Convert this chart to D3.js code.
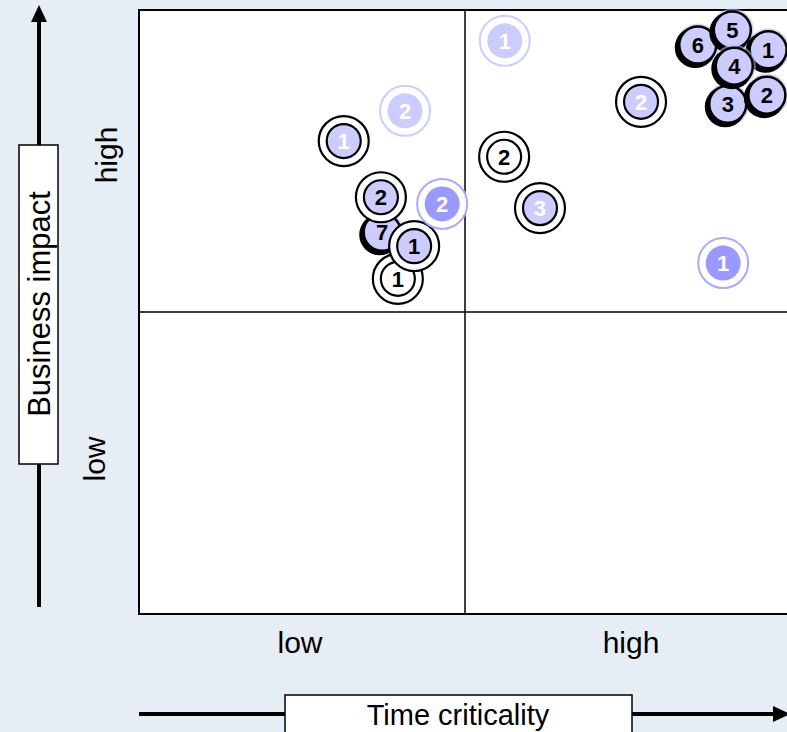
<!DOCTYPE html>
<html>
<head>
<meta charset="utf-8">
<script src="https://cdn.jsdelivr.net/npm/d3@7"></script>
<style>
  html, body { margin: 0; padding: 0; background: #e6edf5; overflow: hidden; }
  svg { display: block; }
  text { font-family: "Liberation Sans", Arial, sans-serif; }
</style>
</head>
<body>
<svg id="chart" width="787" height="732"></svg>
<script>
// ---- data ----
const labels = ["1", "2", "1", "1", "2", "2", "7", "2", "1", "3", "2", "1", "6", "5", "1", "3", "2", "4"];
const timeValues = [5.61, 4.08, 3.14, 3.97, 4.65, 5.60, 3.73, 3.71, 4.22, 6.15, 7.70, 8.96, 8.57, 9.10, 9.65, 9.03, 9.63, 9.13];
const impactValues = [9.49, 8.33, 7.83, 5.55, 6.79, 7.57, 6.32, 6.90, 6.09, 6.72, 8.48, 5.81, 9.42, 9.67, 9.34, 8.44, 8.59, 9.07];
const kinds = ["faded", "faded", "ringLight", "ringEmpty", "medium", "ringEmpty", "shadow", "ringDark", "ringDark", "ringLight", "ringLight", "medium", "shadow", "shadow", "shadow", "shadow", "shadow", "shadow"];
const xTickLabels = ["low", "high"];
const yTickLabels = ["low", "high"];
const xTitle = "Time criticality";
const yTitle = "Business impact";

const points = labels.map((l, i) => ({ label: l, x: timeValues[i], y: impactValues[i], kind: kinds[i] }));

const svg = d3.select("#chart");
const x = d3.scaleLinear().domain([0, 10]).range([139, 791]);
const y = d3.scaleLinear().domain([0, 10]).range([614, 10]);

// plot area
svg.append("rect")
  .attr("x", x(0)).attr("y", y(10))
  .attr("width", x(10) - x(0)).attr("height", y(0) - y(10))
  .attr("fill", "#ffffff").attr("stroke", "#000").attr("stroke-width", 2);

svg.append("line").attr("x1", x(5)).attr("x2", x(5)).attr("y1", y(0)).attr("y2", y(10))
  .attr("stroke", "#000").attr("stroke-width", 1.5);
svg.append("line").attr("x1", x(0)).attr("x2", x(10)).attr("y1", y(5)).attr("y2", y(5))
  .attr("stroke", "#000").attr("stroke-width", 1.5);

// tick labels (quadrant labels)
const xBand = d3.scaleBand().domain(xTickLabels).range([x(0), x(10)]);
svg.selectAll(".xlab").data(xTickLabels).enter().append("text")
  .attr("x", d => xBand(d) + xBand.bandwidth() / 2 + (d === "low" ? -2 : 3))
  .attr("y", 653)
  .attr("text-anchor", "middle").attr("font-size", 30).attr("fill", "#000")
  .text(d => d);

const yBand = d3.scaleBand().domain(yTickLabels).range([y(0), y(10)]);
svg.selectAll(".ylab").data(yTickLabels).enter().append("text")
  .attr("transform", d => {
    const cy = d === "high" ? 155 : 459;
    const bx = d === "high" ? 117 : 105;
    return `translate(${bx},${cy}) rotate(-90)`;
  })
  .attr("text-anchor", "middle").attr("font-size", 30).attr("fill", "#000")
  .text(d => d);

// vertical arrow
svg.append("line").attr("x1", 39).attr("x2", 39).attr("y1", 607).attr("y2", 20)
  .attr("stroke", "#000").attr("stroke-width", 4);
svg.append("path").attr("d", "M39,5 L31,22 L47,22 Z").attr("fill", "#000");
svg.append("rect").attr("x", 19).attr("y", 145).attr("width", 39).attr("height", 319)
  .attr("fill", "#fff").attr("stroke", "#000").attr("stroke-width", 1.5);
svg.append("text")
  .attr("transform", "translate(50,304) rotate(-90)")
  .attr("text-anchor", "middle").attr("font-size", 31).attr("fill", "#000")
  .text(yTitle);

// horizontal arrow
svg.append("line").attr("x1", 139).attr("x2", 775).attr("y1", 714).attr("y2", 714)
  .attr("stroke", "#000").attr("stroke-width", 4);
svg.append("path").attr("d", "M790,714 L773,706 L773,722 Z").attr("fill", "#000");
svg.append("rect").attr("x", 285).attr("y", 695).attr("width", 347).attr("height", 50)
  .attr("fill", "#fff").attr("stroke", "#000").attr("stroke-width", 1.5);
svg.append("text")
  .attr("x", 458).attr("y", 725)
  .attr("text-anchor", "middle").attr("font-size", 29).attr("fill", "#000")
  .text(xTitle);

// bubbles
const LAV = "#ccccff", MED = "#9999ff";
const g = svg.append("g");
const order = [0, 1, 2, 3, 6, 7, 8, 4, 5, 9, 10, 11, 12, 13, 14, 15, 16, 17];
order.forEach(i => {
  const p = points[i];
  const cx = x(p.x), cy = y(p.y);
  const b = g.append("g").attr("transform", `translate(${cx},${cy})`);
  let textColor = "#000";
  if (p.kind === "faded") {
    b.append("circle").attr("r", 25).attr("fill", "#fff").attr("stroke", LAV).attr("stroke-width", 2);
    b.append("circle").attr("r", 17.5).attr("fill", LAV);
    textColor = "#fff";
  } else if (p.kind === "medium") {
    b.append("circle").attr("r", 25).attr("fill", "#fff").attr("stroke", "#aaaaff").attr("stroke-width", 2);
    b.append("circle").attr("r", 17.5).attr("fill", MED);
    textColor = "#fff";
  } else if (p.kind === "ringLight" || p.kind === "ringDark" || p.kind === "ringEmpty") {
    b.append("circle").attr("r", 25).attr("fill", "#fff").attr("stroke", "#000").attr("stroke-width", 2.2);
    b.append("circle").attr("r", 17).attr("fill", p.kind === "ringEmpty" ? "#fff" : LAV)
      .attr("stroke", "#000").attr("stroke-width", 2.2);
    textColor = p.kind === "ringLight" ? "#fff" : "#000";
  } else if (p.kind === "shadow") {
    b.append("circle").attr("r", 21.5).attr("fill", "#b8b8f0").attr("opacity", 0.6);
    b.append("circle").attr("cx", -2.5).attr("cy", 2.5).attr("r", 20.5).attr("fill", "#000");
    b.append("circle").attr("r", 18.5).attr("fill", LAV).attr("stroke", "#000").attr("stroke-width", 2.5);
    textColor = "#000";
  }
  b.append("text")
    .attr("text-anchor", "middle").attr("dy", "0.36em")
    .attr("font-size", 22).attr("font-weight", "bold").attr("fill", textColor)
    .text(p.label);
});
</script>
</body>
</html>
